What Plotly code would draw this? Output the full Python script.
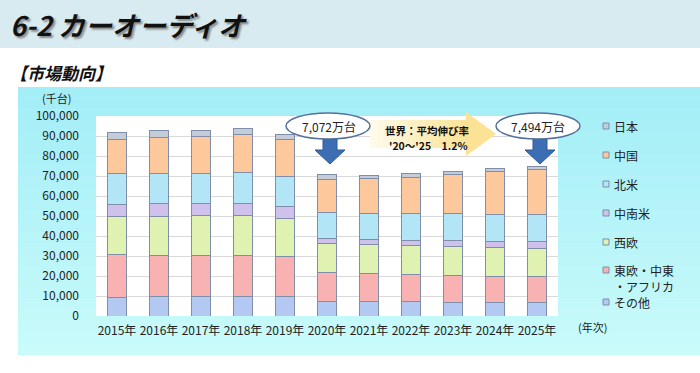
import plotly.graph_objects as go

# ---------------- data ----------------
years = ["2015年", "2016年", "2017年", "2018年", "2019年", "2020年",
         "2021年", "2022年", "2023年", "2024年", "2025年"]
other = [9400, 9700, 9700, 9700, 9700, 7500, 7200, 7200, 6900, 6900, 6700]
eemea = [21300, 20600, 20450, 20600, 20100, 14500, 14200, 13800, 13400, 12900, 13100]
w_europe = [18900, 19600, 20100, 20100, 18800, 14200, 14300, 14200, 14500, 14700, 14200]
latam = [6200, 6200, 5850, 5900, 6300, 2800, 2500, 2600, 3000, 2800, 3300]
n_america = [15400, 15300, 15100, 15400, 15100, 12600, 12900, 13300, 13300, 13500, 13240]
china = [17200, 17900, 18600, 18900, 18100, 16820, 17600, 18100, 19800, 21400, 22900]
japan = [3400, 3300, 3200, 3000, 2800, 2300, 1800, 2000, 1600, 1700, 1500]

series_names = ["その他", "東欧・中東・アフリカ", "西欧", "中南米", "北米", "中国", "日本"]
series_values = [other, eemea, w_europe, latam, n_america, china, japan]
series_colors = ["#b4c9f2", "#f8b2b2", "#e0f2b2", "#cfc0ec", "#b2e6f6", "#fcc89c", "#c3ccd8"]

legend_labels = ["日本", "中国", "北米", "中南米", "西欧", "東欧・中東<br>・アフリカ", "その他"]
legend_colors = ["#c3ccd8", "#fcc89c", "#b2e6f6", "#cfc0ec", "#e0f2b2", "#f8b2b2", "#b4c9f2"]

callout_2020 = "7,072万台"
callout_2025 = "7,494万台"
growth_line1 = "世界：平均伸び率"
growth_line2 = "'20～'25　1.2%"

# ---------------- geometry helpers ----------------
W_FIG, H_FIG = 700, 373
L, T, PW, PH = 96, 116, 462, 200
R = W_FIG - L - PW
B = H_FIG - T - PH


def px(x):
    return (x - L) / PW


def py(y):
    return (T + PH - y) / PH


FONT = "Noto Sans CJK JP"

fig = go.Figure()
for name, vals, col in zip(series_names, series_values, series_colors):
    fig.add_trace(go.Bar(
        x=years, y=vals, name=name, marker=dict(color=col, line=dict(color="#7f8fa9", width=1)),
        showlegend=False,
    ))

shapes = []
# title band
shapes.append(dict(type="rect", xref="paper", yref="paper", x0=px(0), x1=px(700), y0=py(0), y1=py(48),
                   fillcolor="#d7ebf0", line=dict(width=0), layer="below"))
# cyan panel as gradient strips
top, bot = 87, 355
n = 24
c0 = (0xa4, 0xee, 0xf7)
c1 = (0xc9, 0xfb, 0xfb)
for i in range(n):
    t = i / (n - 1)
    c = tuple(int(c0[k] + (c1[k] - c0[k]) * t) for k in range(3))
    ya = top + (bot - top) * i / n
    yb = top + (bot - top) * (i + 1) / n + 0.5
    shapes.append(dict(type="rect", xref="paper", yref="paper", x0=px(18), x1=px(700), y0=py(ya), y1=py(yb),
                       fillcolor="rgb(%d,%d,%d)" % c, line=dict(width=0), layer="below"))
# white plot area
shapes.append(dict(type="rect", xref="paper", yref="paper", x0=0, x1=1, y0=0, y1=1,
                   fillcolor="white", line=dict(width=0), layer="below"))

# yellow growth arrow (gradient strips)
ys0, ys1 = 120, 148
head_x0, tip_x = 466, 496
head_top, head_bot, tip_y = 112, 156, 134
body_x0 = 370
ns = 14
ya0 = (0xff, 0xfb, 0xea)
ya1 = (0xfb, 0xe4, 0x98)
for i in range(ns):
    t = i / (ns - 1)
    c = tuple(int(ya0[k] + (ya1[k] - ya0[k]) * t) for k in range(3))
    xa = body_x0 + (head_x0 - body_x0) * i / ns
    xb = body_x0 + (head_x0 - body_x0) * (i + 1) / ns + 0.5
    shapes.append(dict(type="rect", xref="paper", yref="paper", x0=px(xa), x1=px(xb), y0=py(ys1), y1=py(ys0),
                       fillcolor="rgb(%d,%d,%d)" % c, line=dict(width=0)))
path = "M %f,%f L %f,%f L %f,%f Z" % (px(head_x0), py(head_top), px(tip_x), py(tip_y), px(head_x0), py(head_bot))
shapes.append(dict(type="path", xref="paper", yref="paper", path=path, fillcolor="#fbe294", line=dict(width=0)))


def down_arrow(cx, y_top, y_head, y_tip, shaft_w=14, head_w=30):
    pts = [(cx - shaft_w / 2, y_top), (cx + shaft_w / 2, y_top), (cx + shaft_w / 2, y_head),
           (cx + head_w / 2, y_head), (cx, y_tip), (cx - head_w / 2, y_head), (cx - shaft_w / 2, y_head)]
    d = "M " + " L ".join("%f,%f" % (px(a), py(b)) for a, b in pts) + " Z"
    return dict(type="path", xref="paper", yref="paper", path=d, fillcolor="#3d6db3",
                line=dict(color="#2f5b9a", width=1))


shapes.append(down_arrow(330, 139, 150, 164))
shapes.append(down_arrow(540, 139, 150, 164))

# ellipses
for cx in (328, 538):
    shapes.append(dict(type="circle", xref="paper", yref="paper", x0=px(cx - 42), x1=px(cx + 42),
                       y0=py(139), y1=py(113), fillcolor="white", line=dict(color="#56709c", width=1.5)))

# legend squares
leg_y = [126, 155, 184, 213, 242, 270, 302]
for yy, col in zip(leg_y, legend_colors):
    shapes.append(dict(type="rect", xref="paper", yref="paper", x0=px(603), x1=px(609), y0=py(yy + 3), y1=py(yy - 3),
                       fillcolor=col, line=dict(color="#7f8fa9", width=1)))

annotations = []
annotations.append(dict(text="6-2 カーオーディオ", xref="paper", yref="paper", x=px(8), y=py(25),
                        xanchor="left", yanchor="middle", showarrow=False,
                        font=dict(family=FONT, size=27, color="#111", style="italic", weight="bold",
                                  shadow="2px 2px 2px #8a8a8a")))
annotations.append(dict(text="【市場動向】", xref="paper", yref="paper", x=px(8), y=py(73),
                        xanchor="left", yanchor="middle", showarrow=False,
                        font=dict(family=FONT, size=17, color="#111", style="italic", weight="bold")))
annotations.append(dict(text="(千台)", xref="paper", yref="paper", x=px(56), y=py(98),
                        xanchor="center", yanchor="middle", showarrow=False,
                        font=dict(family=FONT, size=11, color="#222")))
annotations.append(dict(text="(年次)", xref="paper", yref="paper", x=px(592), y=py(327),
                        xanchor="center", yanchor="middle", showarrow=False,
                        font=dict(family=FONT, size=11, color="#222")))
annotations.append(dict(text=callout_2020, xref="paper", yref="paper", x=px(329), y=py(126),
                        xanchor="center", yanchor="middle", showarrow=False,
                        font=dict(family=FONT, size=12, color="#222")))
annotations.append(dict(text=callout_2025, xref="paper", yref="paper", x=px(538), y=py(126),
                        xanchor="center", yanchor="middle", showarrow=False,
                        font=dict(family=FONT, size=12, color="#222")))
annotations.append(dict(text=growth_line1, xref="paper", yref="paper", x=px(383), y=py(130),
                        xanchor="left", yanchor="middle", showarrow=False,
                        font=dict(family=FONT, size=10.5, color="#111", weight="bold")))
annotations.append(dict(text=growth_line2, xref="paper", yref="paper", x=px(387), y=py(145),
                        xanchor="left", yanchor="middle", showarrow=False,
                        font=dict(family=FONT, size=10.5, color="#111", weight="bold")))
for yy, lab in zip(leg_y, legend_labels):
    if "<br>" in lab:
        l1, l2 = lab.split("<br>")
        annotations.append(dict(text=l1, xref="paper", yref="paper", x=px(612), y=py(yy),
                                xanchor="left", yanchor="middle", showarrow=False,
                                font=dict(family=FONT, size=12, color="#222")))
        annotations.append(dict(text=l2, xref="paper", yref="paper", x=px(612), y=py(yy + 16),
                                xanchor="left", yanchor="middle", showarrow=False,
                                font=dict(family=FONT, size=12, color="#222")))
    else:
        annotations.append(dict(text=lab, xref="paper", yref="paper", x=px(612), y=py(yy),
                                xanchor="left", yanchor="middle", showarrow=False,
                                font=dict(family=FONT, size=12, color="#222")))

fig.update_layout(
    width=W_FIG, height=H_FIG,
    margin=dict(l=L, r=R, t=T, b=B, pad=0),
    barmode="stack", bargap=0.56,
    paper_bgcolor="white", plot_bgcolor="white",
    showlegend=False,
    shapes=shapes, annotations=annotations,
    font=dict(family=FONT, size=12, color="#222"),
    xaxis=dict(showgrid=False, showline=False, zeroline=False, ticks="", ticklabelstandoff=6,
               tickfont=dict(family=FONT, size=12, color="#222")),
    yaxis=dict(range=[0, 100000], dtick=10000, tickformat=",d", showgrid=True, gridcolor="#d9d9d9",
               gridwidth=1, zeroline=False, showline=False, ticks="", ticklabelstandoff=16,
               tickfont=dict(family=FONT, size=12, color="#222")),
)

fig.write_html("out.html", config={"displayModeBar": False},
               post_script="document.body.style.margin='0';document.body.style.padding='0';")
